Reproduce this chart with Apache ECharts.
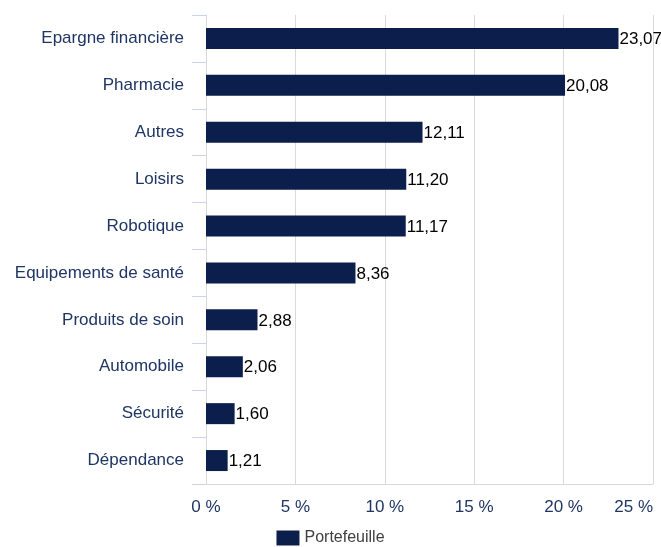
<!DOCTYPE html>
<html>
<head>
<meta charset="utf-8">
<script src="https://cdn.jsdelivr.net/npm/echarts@6/dist/echarts.min.js"></script>
<style>
  html, body { margin: 0; padding: 0; background: #fff; }
  #chart { width: 661px; height: 547px; }
</style>
</head>
<body>
<div id="chart"></div>
<script>
// catégories et valeurs (%)
const categories = ['Epargne financière', 'Pharmacie', 'Autres', 'Loisirs', 'Robotique',
  'Equipements de santé', 'Produits de soin', 'Automobile', 'Sécurité', 'Dépendance'];
const portefeuille = [23.07, 20.08, 12.11, 11.20, 11.17, 8.36, 2.88, 2.06, 1.60, 1.21];

const chart = echarts.init(document.getElementById('chart'));

const option = {
  animation: false,
  textStyle: { fontFamily: 'Liberation Sans, Arial, sans-serif' },
  grid: { left: 206, right: 8, top: 15, bottom: 63 },
  legend: {
    data: [{ name: 'Portefeuille', icon: 'rect' }],
    bottom: 1,
    left: 'center',
    padding: 0,
    itemWidth: 23,
    itemHeight: 15,
    itemGap: 8,
    textStyle: { color: '#404040', fontSize: 16 }
  },
  xAxis: {
    type: 'value',
    min: 0,
    max: 25,
    interval: 5,
    axisLine: { show: true, lineStyle: { color: '#d9d9d9' } },
    axisTick: { show: false },
    splitLine: { lineStyle: { color: '#d9d9d9' } },
    axisLabel: {
      color: '#1f3564',
      fontSize: 17,
      margin: 15,
      alignMaxLabel: 'right',
      formatter: v => v + ' %'
    }
  },
  yAxis: {
    type: 'category',
    inverse: true,
    data: categories,
    axisLine: { show: true, lineStyle: { color: '#d9d9d9' } },
    axisTick: { show: true, length: 14, lineStyle: { color: '#c8d4ec' } },
    axisLabel: { color: '#1f3564', fontSize: 17, margin: 22 }
  },
  series: [
    {
      name: 'Portefeuille',
      type: 'bar',
      data: portefeuille,
      barWidth: 21,
      itemStyle: { color: '#0c1e4b' },
      label: {
        show: true,
        position: 'right',
        distance: 1,
        offset: [0, 1],
        color: '#000',
        fontSize: 17,
        formatter: p => p.value.toFixed(2).replace('.', ',')
      }
    }
  ]
};

chart.setOption(option);
</script>
</body>
</html>
